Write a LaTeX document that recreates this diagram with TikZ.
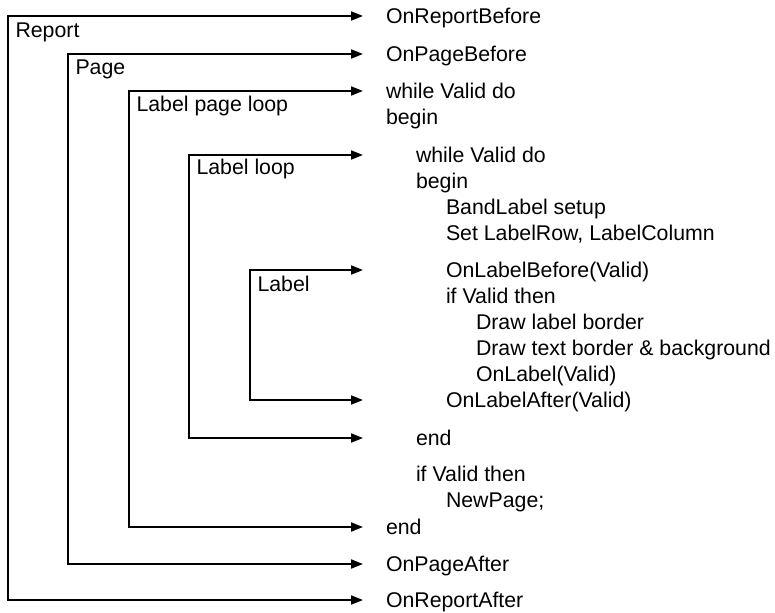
\documentclass[tikz,border=0pt]{standalone}
\usepackage{fontspec}
\setmainfont{Liberation Sans}
\usetikzlibrary{arrows.meta}
\begin{document}
\begin{tikzpicture}[x=1pt,y=-1pt,
  txt/.style={font=\fontsize{21.3}{26}\selectfont, inner sep=0pt, outer sep=0pt, anchor=base west},
  bracket/.style={line width=1.8pt, line join=miter,
    {Triangle[length=12pt,width=9pt]}-{Triangle[length=12pt,width=9pt]}},
]
\useasboundingbox (0,0) rectangle (775,612);

% corners and arrow ends
\coordinate (repT) at (363,16);  \coordinate (repTL) at (8,16);
\coordinate (repBL) at (8,600);  \coordinate (repB) at (363,600);
\coordinate (pagT) at (363,54);  \coordinate (pagTL) at (68,54);
\coordinate (pagBL) at (68,564); \coordinate (pagB) at (363,564);
\coordinate (lplT) at (363,91);  \coordinate (lplTL) at (129,91);
\coordinate (lplBL) at (129,527);\coordinate (lplB) at (363,527);
\coordinate (llT) at (363,155);  \coordinate (llTL) at (189,155);
\coordinate (llBL) at (189,438); \coordinate (llB) at (363,438);
\coordinate (lbT) at (363,270);  \coordinate (lbTL) at (250,270);
\coordinate (lbBL) at (250,400); \coordinate (lbB) at (363,400);

% brackets
\draw[bracket] (repT) -- (repTL) -- (repBL) -- (repB);
\draw[bracket] (pagT) -- (pagTL) -- (pagBL) -- (pagB);
\draw[bracket] (lplT) -- (lplTL) -- (lplBL) -- (lplB);
\draw[bracket] (llT) -- (llTL) -- (llBL) -- (llB);
\draw[bracket] (lbT) -- (lbTL) -- (lbBL) -- (lbB);

% left labels
\node[txt] (nRep) at (15.5,38) {Report};
\node[txt] (nPag) at (75.5,75) {Page};
\node[txt] (nLpl) at (136.5,112) {Label page loop};
\node[txt] (nLl)  at (196.5,175) {Label loop};
\node[txt] (nLb)  at (257.5,291) {Label};

% right texts
\node[txt] (t1)  at (386,23.6)  {OnReportBefore};
\node[txt] (t2)  at (386,61.6)  {OnPageBefore};
\node[txt] (t3)  at (386,98.6)  {while Valid do};
\node[txt] (t4)  at (386,124.6) {begin};
\node[txt] (t5)  at (416,162.6) {while Valid do};
\node[txt] (t6)  at (416,188.6) {begin};
\node[txt] (t7)  at (446,214.6) {BandLabel setup};
\node[txt] (t8)  at (446,240.6) {Set LabelRow, LabelColumn};
\node[txt] (t9)  at (446,277.6) {OnLabelBefore(Valid)};
\node[txt] (t10) at (446,303.6) {if Valid then};
\node[txt] (t11) at (476,329.6) {Draw label border};
\node[txt] (t12) at (476,355.6) {Draw text border \& background};
\node[txt] (t13) at (476,381.6) {OnLabel(Valid)};
\node[txt] (t14) at (446,407.6) {OnLabelAfter(Valid)};
\node[txt] (t15) at (416,445.6) {end};
\node[txt] (t16) at (416,481.6) {if Valid then};
\node[txt] (t17) at (446,507.6) {NewPage;};
\node[txt] (t18) at (386,534.6) {end};
\node[txt] (t19) at (386,571.6) {OnPageAfter};
\node[txt] (t20) at (386,607.6) {OnReportAfter};
\end{tikzpicture}
\end{document}
